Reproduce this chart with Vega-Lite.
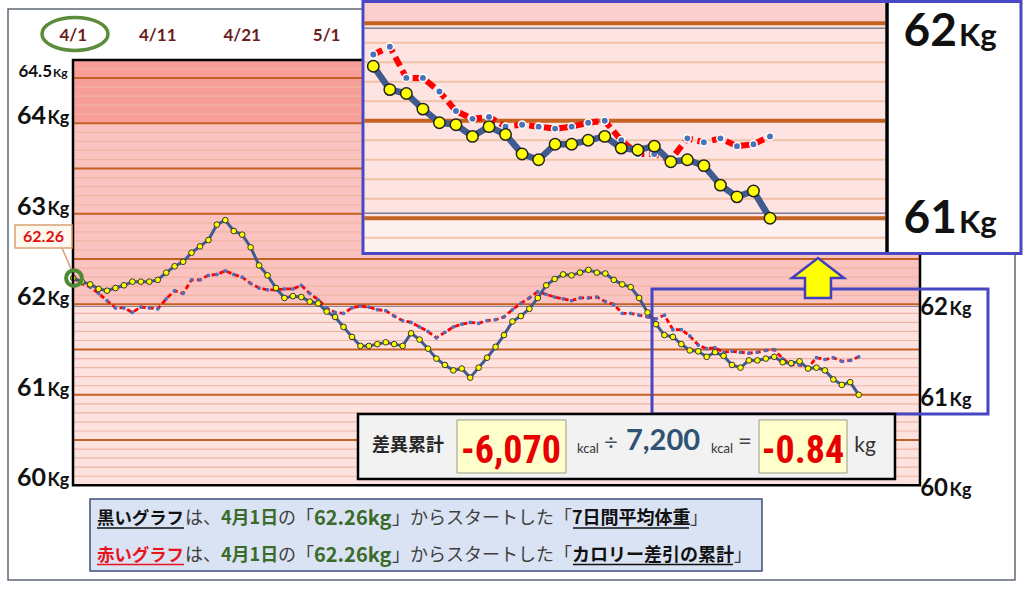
{
"$schema": "https://vega.github.io/schema/vega-lite/v6.json",
"width": 1024, "height": 591, "autosize": {"type": "none"}, "padding": 0,
"background": "#ffffff",
"config": {"view": {"stroke": null}},
"data": {"values": [{}]},
"datasets": {
"series": [
{"day":0,"black":62.29,"red":62.29},{"day":1,"black":62.25,"red":62.23},{"day":2,"black":62.22,"red":62.19},{"day":3,"black":62.17,"red":62.12},{"day":4,"black":62.15,"red":62.04},{"day":5,"black":62.18,"red":61.96},{"day":6,"black":62.21,"red":61.96},{"day":7,"black":62.25,"red":61.91},{"day":8,"black":62.25,"red":61.97},{"day":9,"black":62.25,"red":61.96},
{"day":10,"black":62.27,"red":61.95},{"day":11,"black":62.35,"red":62.06},{"day":12,"black":62.42,"red":62.15},{"day":13,"black":62.47,"red":62.12},{"day":14,"black":62.57,"red":62.27},{"day":15,"black":62.64,"red":62.27},{"day":16,"black":62.71,"red":62.32},{"day":17,"black":62.88,"red":62.33},{"day":18,"black":62.93,"red":62.37},{"day":19,"black":62.81,"red":62.33},
{"day":20,"black":62.77,"red":62.30},{"day":21,"black":62.63,"red":62.23},{"day":22,"black":62.43,"red":62.18},{"day":23,"black":62.32,"red":62.16},{"day":24,"black":62.18,"red":62.16},{"day":25,"black":62.07,"red":62.17},{"day":26,"black":62.09,"red":62.17},{"day":27,"black":62.08,"red":62.21},{"day":28,"black":62.03,"red":62.12},{"day":29,"black":62.01,"red":62.05},
{"day":30,"black":61.92,"red":61.96},{"day":31,"black":61.86,"red":61.91},{"day":32,"black":61.75,"red":61.90},{"day":33,"black":61.64,"red":61.96},{"day":34,"black":61.54,"red":61.98},{"day":35,"black":61.54,"red":61.97},{"day":36,"black":61.56,"red":61.94},{"day":37,"black":61.58,"red":61.93},{"day":38,"black":61.56,"red":61.87},{"day":39,"black":61.54,"red":61.82},
{"day":40,"black":61.68,"red":61.80},{"day":41,"black":61.61,"red":61.75},{"day":42,"black":61.51,"red":61.70},{"day":43,"black":61.40,"red":61.63},{"day":44,"black":61.33,"red":61.69},{"day":45,"black":61.27,"red":61.75},{"day":46,"black":61.29,"red":61.78},{"day":47,"black":61.19,"red":61.80},{"day":48,"black":61.30,"red":61.79},{"day":49,"black":61.41,"red":61.82},
{"day":50,"black":61.53,"red":61.83},{"day":51,"black":61.66,"red":61.86},{"day":52,"black":61.81,"red":61.94},{"day":53,"black":61.87,"red":62.01},{"day":54,"black":61.95,"red":62.07},{"day":55,"black":62.07,"red":62.14},{"day":56,"black":62.21,"red":62.11},{"day":57,"black":62.28,"red":62.08},{"day":58,"black":62.33,"red":62.06},{"day":59,"black":62.32,"red":62.04},
{"day":60,"black":62.35,"red":62.07},{"day":61,"black":62.38,"red":62.07},{"day":62,"black":62.35,"red":62.08},{"day":63,"black":62.34,"red":62.03},{"day":64,"black":62.27,"red":62.00},{"day":65,"black":62.22,"red":61.90},{"day":66,"black":62.19,"red":61.90},{"day":67,"black":62.07,"red":61.88},{"day":68,"black":61.91,"red":61.86},{"day":69,"black":61.78,"red":61.84},
{"day":70,"black":61.66,"red":61.88},{"day":71,"black":61.64,"red":61.72},{"day":72,"black":61.56,"red":61.72},{"day":73,"black":61.49,"red":61.65},{"day":74,"black":61.48,"red":61.55},{"day":75,"black":61.42,"red":61.51},{"day":76,"black":61.47,"red":61.52},{"day":77,"black":61.43,"red":61.47},{"day":78,"black":61.33,"red":61.48},{"day":79,"black":61.30,"red":61.47},
{"day":80,"black":61.38,"red":61.46},{"day":81,"black":61.38,"red":61.47},{"day":82,"black":61.40,"red":61.49},{"day":83,"black":61.42,"red":61.50},{"day":84,"black":61.36,"red":61.40},{"day":85,"black":61.35,"red":61.33},{"day":86,"black":61.37,"red":61.33},{"day":87,"black":61.29,"red":61.30},{"day":88,"black":61.30,"red":61.41},{"day":89,"black":61.27,"red":61.39},
{"day":90,"black":61.17,"red":61.41},{"day":91,"black":61.11,"red":61.37},{"day":92,"black":61.14,"red":61.38},{"day":93,"black":61.00,"red":61.42}
],
"minor": [{"kg":60.1},{"kg":60.2},{"kg":60.3},{"kg":60.4},{"kg":60.6},{"kg":60.7},{"kg":60.8},{"kg":60.9},{"kg":61.1},{"kg":61.2},{"kg":61.3},{"kg":61.4},{"kg":61.6},{"kg":61.7},{"kg":61.8},{"kg":61.9},{"kg":62.1},{"kg":62.2},{"kg":62.3},{"kg":62.4},{"kg":62.6},{"kg":62.7},{"kg":62.8},{"kg":62.9},{"kg":63.1},{"kg":63.2},{"kg":63.3},{"kg":63.4},{"kg":63.6},{"kg":63.7},{"kg":63.8},{"kg":63.9},{"kg":64.1},{"kg":64.2},{"kg":64.3},{"kg":64.4},{"kg":64.6}],
"major": [{"kg":60.5},{"kg":61},{"kg":61.5},{"kg":62},{"kg":62.5},{"kg":63},{"kg":63.5},{"kg":64},{"kg":64.5}],
"insetMinor": [{"kg":60.9},{"kg":61.1},{"kg":61.2},{"kg":61.3},{"kg":61.4},{"kg":61.6},{"kg":61.7},{"kg":61.8},{"kg":61.9}],
"insetMajor": [{"kg":61},{"kg":61.5},{"kg":62}],
"insetEdge": [{"kg":61.0257},{"kg":61.9744}],
"dates": [{"day":0,"lab":"4/1"},{"day":10,"lab":"4/11"},{"day":20,"lab":"4/21"},{"day":30,"lab":"5/1"}],
"leftLabels": [{"kg":64,"n":"64"},{"kg":63,"n":"63"},{"kg":62,"n":"62"},{"kg":61,"n":"61"},{"kg":60,"n":"60"}],
"rightLabels": [{"kg":62,"n":"62"},{"kg":61,"n":"61"},{"kg":60,"n":"60"}]
},
"layer": [
{"layer": [
{"mark": {"type": "rect", "fill": "#f79e98"},
 "encoding": {"x": {"datum": -0.036, "type": "quantitative", "scale": {"domain": [-8.68, 112.576], "nice": false, "zero": false}, "axis": null}, "x2": {"datum": 100.26},
  "y": {"datum": 64, "type": "quantitative", "scale": {"domain": [58.832, 65.3624], "nice": false, "zero": false}, "axis": null}, "y2": {"datum": 64.699}}},
{"mark": {"type": "rect", "fill": "#fbc3c0"},
 "encoding": {"x": {"datum": -0.036, "type": "quantitative", "scale": {"domain": [-8.68, 112.576], "nice": false, "zero": false}, "axis": null}, "x2": {"datum": 100.26},
  "y": {"datum": 62, "type": "quantitative", "scale": {"domain": [58.832, 65.3624], "nice": false, "zero": false}, "axis": null}, "y2": {"datum": 64}}},
{"mark": {"type": "rect", "fill": "#fde2e0"},
 "encoding": {"x": {"datum": -0.036, "type": "quantitative", "scale": {"domain": [-8.68, 112.576], "nice": false, "zero": false}, "axis": null}, "x2": {"datum": 100.26},
  "y": {"datum": 60, "type": "quantitative", "scale": {"domain": [58.832, 65.3624], "nice": false, "zero": false}, "axis": null}, "y2": {"datum": 62}}},
{"data": {"name": "minor"}, "mark": {"type": "rule", "stroke": "#f0b4a2", "strokeWidth": 1.2},
 "encoding": {"x": {"datum": -0.036, "type": "quantitative", "scale": {"domain": [-8.68, 112.576], "nice": false, "zero": false}, "axis": null}, "x2": {"datum": 100.26},
  "y": {"field": "kg", "type": "quantitative", "scale": {"domain": [58.832, 65.3624], "nice": false, "zero": false}, "axis": null}}},
{"data": {"name": "major"}, "mark": {"type": "rule", "stroke": "#c55f22", "strokeWidth": 2},
 "encoding": {"x": {"datum": -0.036, "type": "quantitative", "scale": {"domain": [-8.68, 112.576], "nice": false, "zero": false}, "axis": null}, "x2": {"datum": 100.26},
  "y": {"field": "kg", "type": "quantitative", "scale": {"domain": [58.832, 65.3624], "nice": false, "zero": false}, "axis": null}}},
{"mark": {"type": "rule", "stroke": "#8c8296", "strokeWidth": 1},
 "encoding": {"x": {"datum": -0.036, "type": "quantitative", "scale": {"domain": [-8.68, 112.576], "nice": false, "zero": false}, "axis": null}, "x2": {"datum": 100.26},
  "y": {"datum": 61.976, "type": "quantitative", "scale": {"domain": [58.832, 65.3624], "nice": false, "zero": false}, "axis": null}}},
{"data": {"name": "series"}, "mark": {"type": "line", "color": "#ff0000", "strokeWidth": 2.8, "strokeDash": [5, 3]},
 "encoding": {"x": {"field": "day", "type": "quantitative", "scale": {"domain": [-8.68, 112.576], "nice": false, "zero": false}, "axis": null},
  "y": {"field": "red", "type": "quantitative", "scale": {"domain": [58.832, 65.3624], "nice": false, "zero": false}, "axis": null}}},
{"data": {"name": "series"}, "mark": {"type": "point", "shape": "circle", "filled": true, "fill": "#4472c4", "size": 14, "strokeWidth": 0, "opacity": 1},
 "encoding": {"x": {"field": "day", "type": "quantitative", "scale": {"domain": [-8.68, 112.576], "nice": false, "zero": false}, "axis": null},
  "y": {"field": "red", "type": "quantitative", "scale": {"domain": [58.832, 65.3624], "nice": false, "zero": false}, "axis": null}}},
{"data": {"name": "series"}, "mark": {"type": "line", "color": "#3f5b8f", "strokeWidth": 3},
 "encoding": {"x": {"field": "day", "type": "quantitative", "scale": {"domain": [-8.68, 112.576], "nice": false, "zero": false}, "axis": null},
  "y": {"field": "black", "type": "quantitative", "scale": {"domain": [58.832, 65.3624], "nice": false, "zero": false}, "axis": null}}},
{"data": {"name": "series"}, "mark": {"type": "point", "shape": "circle", "filled": true, "fill": "#ffff00", "stroke": "#333333", "strokeWidth": 1, "size": 32, "opacity": 1},
 "encoding": {"x": {"field": "day", "type": "quantitative", "scale": {"domain": [-8.68, 112.576], "nice": false, "zero": false}, "axis": null},
  "y": {"field": "black", "type": "quantitative", "scale": {"domain": [58.832, 65.3624], "nice": false, "zero": false}, "axis": null}}},
{"mark": {"type": "rect", "fill": "#ffffff", "fillOpacity": 0, "stroke": "#000000", "strokeWidth": 2.5},
 "encoding": {"x": {"datum": -0.036, "type": "quantitative", "scale": {"domain": [-8.68, 112.576], "nice": false, "zero": false}, "axis": null}, "x2": {"datum": 100.26},
  "y": {"datum": 60, "type": "quantitative", "scale": {"domain": [58.832, 65.3624], "nice": false, "zero": false}, "axis": null}, "y2": {"datum": 64.699}}},
{"mark": {"type": "rect", "fill": "#ffffff", "fillOpacity": 0, "stroke": "#4646c3", "strokeWidth": 3},
 "encoding": {"x": {"datum": 68.526, "type": "quantitative", "scale": {"domain": [-8.68, 112.576], "nice": false, "zero": false}, "axis": null}, "x2": {"datum": 108.31},
  "y": {"datum": 60.788, "type": "quantitative", "scale": {"domain": [58.832, 65.3624], "nice": false, "zero": false}, "axis": null}, "y2": {"datum": 62.169}}},
{"mark": {"type": "point", "shape": "M0,-1L1.3,0L0.65,0L0.65,1L-0.65,1L-0.65,0L-1.3,0Z", "size": 1600, "filled": true, "fill": "#ffff00", "stroke": "#3f3fbf", "strokeWidth": 2.5, "opacity": 1},
 "encoding": {"x": {"datum": 88.18, "type": "quantitative", "scale": {"domain": [-8.68, 112.576], "nice": false, "zero": false}, "axis": null},
  "y": {"datum": 62.29, "type": "quantitative", "scale": {"domain": [58.832, 65.3624], "nice": false, "zero": false}, "axis": null}}},
{"data": {"name": "dates"}, "mark": {"type": "text", "font": "Lato", "fontWeight": "bold", "fontSize": 17, "fill": "#6b2020", "align": "center", "baseline": "middle"},
 "encoding": {"x": {"field": "day", "type": "quantitative", "scale": {"domain": [-8.68, 112.576], "nice": false, "zero": false}, "axis": null},
  "y": {"datum": 64.962, "type": "quantitative", "scale": {"domain": [58.832, 65.3624], "nice": false, "zero": false}, "axis": null}, "text": {"field": "lab"}}},
{"mark": {"type": "point", "shape": "M-1,0C-1,-0.276,-0.552,-0.5,0,-0.5C0.552,-0.5,1,-0.276,1,0C1,0.276,0.552,0.5,0,0.5C-0.552,0.5,-1,0.276,-1,0Z", "size": 4356, "filled": false, "stroke": "#5a8c3b", "strokeWidth": 3.5, "opacity": 1},
 "encoding": {"x": {"datum": 0.2, "type": "quantitative", "scale": {"domain": [-8.68, 112.576], "nice": false, "zero": false}, "axis": null},
  "y": {"datum": 64.987, "type": "quantitative", "scale": {"domain": [58.832, 65.3624], "nice": false, "zero": false}, "axis": null}}},
{"data": {"name": "leftLabels"}, "mark": {"type": "text", "font": "Lato", "fontWeight": "bold", "fontSize": 25, "fill": "#111111", "align": "right", "baseline": "alphabetic", "dy": 1},
 "encoding": {"x": {"datum": -3.233, "type": "quantitative", "scale": {"domain": [-8.68, 112.576], "nice": false, "zero": false}, "axis": null},
  "y": {"field": "kg", "type": "quantitative", "scale": {"domain": [58.832, 65.3624], "nice": false, "zero": false}, "axis": null}, "text": {"field": "n"}}},
{"data": {"name": "leftLabels"}, "mark": {"type": "text", "font": "Lato", "fontWeight": "bold", "fontSize": 18, "fill": "#111111", "align": "left", "baseline": "alphabetic", "dy": 1, "text": "Kg"},
 "encoding": {"x": {"datum": -3.055, "type": "quantitative", "scale": {"domain": [-8.68, 112.576], "nice": false, "zero": false}, "axis": null},
  "y": {"field": "kg", "type": "quantitative", "scale": {"domain": [58.832, 65.3624], "nice": false, "zero": false}, "axis": null}}},
{"mark": {"type": "text", "font": "Lato", "fontWeight": "bold", "fontSize": 17, "fill": "#111111", "align": "right", "baseline": "alphabetic", "dy": -1, "text": "64.5"},
 "encoding": {"x": {"datum": -2.522, "type": "quantitative", "scale": {"domain": [-8.68, 112.576], "nice": false, "zero": false}, "axis": null},
  "y": {"datum": 64.5, "type": "quantitative", "scale": {"domain": [58.832, 65.3624], "nice": false, "zero": false}, "axis": null}}},
{"mark": {"type": "text", "font": "Lato", "fontWeight": "bold", "fontSize": 12, "fill": "#111111", "align": "left", "baseline": "alphabetic", "dy": -1, "text": "Kg"},
 "encoding": {"x": {"datum": -2.404, "type": "quantitative", "scale": {"domain": [-8.68, 112.576], "nice": false, "zero": false}, "axis": null},
  "y": {"datum": 64.5, "type": "quantitative", "scale": {"domain": [58.832, 65.3624], "nice": false, "zero": false}, "axis": null}}},
{"data": {"name": "rightLabels"}, "mark": {"type": "text", "font": "Lato", "fontWeight": "bold", "fontSize": 24, "fill": "#111111", "align": "right", "baseline": "alphabetic", "dy": 11},
 "encoding": {"x": {"datum": 103.58, "type": "quantitative", "scale": {"domain": [-8.68, 112.576], "nice": false, "zero": false}, "axis": null},
  "y": {"field": "kg", "type": "quantitative", "scale": {"domain": [58.832, 65.3624], "nice": false, "zero": false}, "axis": null}, "text": {"field": "n"}}},
{"data": {"name": "rightLabels"}, "mark": {"type": "text", "font": "Lato", "fontWeight": "bold", "fontSize": 18, "fill": "#111111", "align": "left", "baseline": "alphabetic", "dy": 11, "text": "Kg"},
 "encoding": {"x": {"datum": 103.76, "type": "quantitative", "scale": {"domain": [-8.68, 112.576], "nice": false, "zero": false}, "axis": null},
  "y": {"field": "kg", "type": "quantitative", "scale": {"domain": [58.832, 65.3624], "nice": false, "zero": false}, "axis": null}}},
{"mark": {"type": "rule", "stroke": "#d9a070", "strokeWidth": 1.5},
 "encoding": {"x": {"datum": -1.338, "type": "quantitative", "scale": {"domain": [-8.68, 112.576], "nice": false, "zero": false}, "axis": null}, "x2": {"datum": -0.154},
  "y": {"datum": 62.622, "type": "quantitative", "scale": {"domain": [58.832, 65.3624], "nice": false, "zero": false}, "axis": null}, "y2": {"datum": 62.368}}},
{"mark": {"type": "rect", "fill": "#fff8ee", "stroke": "#d9a070", "strokeWidth": 1.5},
 "encoding": {"x": {"datum": -6.903, "type": "quantitative", "scale": {"domain": [-8.68, 112.576], "nice": false, "zero": false}, "axis": null}, "x2": {"datum": -0.154},
  "y": {"datum": 62.622, "type": "quantitative", "scale": {"domain": [58.832, 65.3624], "nice": false, "zero": false}, "axis": null}, "y2": {"datum": 62.876}}},
{"mark": {"type": "text", "font": "Lato", "fontWeight": "bold", "fontSize": 16, "fill": "#e01010", "align": "center", "baseline": "middle", "text": "62.26"},
 "encoding": {"x": {"datum": -3.529, "type": "quantitative", "scale": {"domain": [-8.68, 112.576], "nice": false, "zero": false}, "axis": null},
  "y": {"datum": 62.744, "type": "quantitative", "scale": {"domain": [58.832, 65.3624], "nice": false, "zero": false}, "axis": null}}},
{"mark": {"type": "point", "shape": "circle", "size": 250, "filled": false, "stroke": "#4e8a33", "strokeWidth": 4, "opacity": 1},
 "encoding": {"x": {"datum": 0.08, "type": "quantitative", "scale": {"domain": [-8.68, 112.576], "nice": false, "zero": false}, "axis": null},
  "y": {"datum": 62.29, "type": "quantitative", "scale": {"domain": [58.832, 65.3624], "nice": false, "zero": false}, "axis": null}}},
{"mark": {"type": "rect", "fill": "#f2f2f2", "stroke": "#000000", "strokeWidth": 2.5},
 "encoding": {"x": {"datum": 33.712, "type": "quantitative", "scale": {"domain": [-8.68, 112.576], "nice": false, "zero": false}, "axis": null}, "x2": {"datum": 97.30},
  "y": {"datum": 60.070, "type": "quantitative", "scale": {"domain": [58.832, 65.3624], "nice": false, "zero": false}, "axis": null}, "y2": {"datum": 60.788}}},
{"mark": {"type": "rect", "fill": "#ffffcc", "stroke": "#9a9a8a", "strokeWidth": 1},
 "encoding": {"x": {"datum": 45.437, "type": "quantitative", "scale": {"domain": [-8.68, 112.576], "nice": false, "zero": false}, "axis": null}, "x2": {"datum": 58.343},
  "y": {"datum": 60.136, "type": "quantitative", "scale": {"domain": [58.832, 65.3624], "nice": false, "zero": false}, "axis": null}, "y2": {"datum": 60.722}}},
{"mark": {"type": "rect", "fill": "#ffffcc", "stroke": "#9a9a8a", "strokeWidth": 1},
 "encoding": {"x": {"datum": 81.20, "type": "quantitative", "scale": {"domain": [-8.68, 112.576], "nice": false, "zero": false}, "axis": null}, "x2": {"datum": 91.62},
  "y": {"datum": 60.136, "type": "quantitative", "scale": {"domain": [58.832, 65.3624], "nice": false, "zero": false}, "axis": null}, "y2": {"datum": 60.722}}},
{"mark": {"type": "text", "font": "Noto Sans CJK JP", "fontWeight": "bold", "fontSize": 18, "fill": "#262626", "align": "center", "baseline": "middle", "text": "差異累計"},
 "encoding": {"x": {"datum": 39.633, "type": "quantitative", "scale": {"domain": [-8.68, 112.576], "nice": false, "zero": false}, "axis": null},
  "y": {"datum": 60.434, "type": "quantitative", "scale": {"domain": [58.832, 65.3624], "nice": false, "zero": false}, "axis": null}}},
{"mark": {"type": "text", "font": "Liberation Sans Narrow, Roboto Condensed, DejaVu Sans Condensed, Liberation Sans", "fontWeight": "bold", "fontSize": 38, "fill": "#e60000", "align": "center", "baseline": "alphabetic", "text": "-6,070"},
 "encoding": {"x": {"datum": 51.83, "type": "quantitative", "scale": {"domain": [-8.68, 112.576], "nice": false, "zero": false}, "axis": null},
  "y": {"datum": 60.246, "type": "quantitative", "scale": {"domain": [58.832, 65.3624], "nice": false, "zero": false}, "axis": null}}},
{"mark": {"type": "text", "font": "Lato", "fontSize": 13, "fill": "#333333", "align": "center", "baseline": "alphabetic", "text": "kcal"},
 "encoding": {"x": {"datum": 60.94, "type": "quantitative", "scale": {"domain": [-8.68, 112.576], "nice": false, "zero": false}, "axis": null},
  "y": {"datum": 60.357, "type": "quantitative", "scale": {"domain": [58.832, 65.3624], "nice": false, "zero": false}, "axis": null}}},
{"mark": {"type": "text", "font": "Lato", "fontSize": 24, "fill": "#44546a", "align": "center", "baseline": "middle", "text": "÷"},
 "encoding": {"x": {"datum": 63.67, "type": "quantitative", "scale": {"domain": [-8.68, 112.576], "nice": false, "zero": false}, "axis": null},
  "y": {"datum": 60.467, "type": "quantitative", "scale": {"domain": [58.832, 65.3624], "nice": false, "zero": false}, "axis": null}}},
{"mark": {"type": "text", "font": "Lato", "fontWeight": "bold", "fontSize": 29, "fill": "#2f5275", "align": "center", "baseline": "alphabetic", "text": "7,200"},
 "encoding": {"x": {"datum": 69.83, "type": "quantitative", "scale": {"domain": [-8.68, 112.576], "nice": false, "zero": false}, "axis": null},
  "y": {"datum": 60.39, "type": "quantitative", "scale": {"domain": [58.832, 65.3624], "nice": false, "zero": false}, "axis": null}}},
{"mark": {"type": "text", "font": "Lato", "fontSize": 13, "fill": "#333333", "align": "center", "baseline": "alphabetic", "text": "kcal"},
 "encoding": {"x": {"datum": 76.81, "type": "quantitative", "scale": {"domain": [-8.68, 112.576], "nice": false, "zero": false}, "axis": null},
  "y": {"datum": 60.357, "type": "quantitative", "scale": {"domain": [58.832, 65.3624], "nice": false, "zero": false}, "axis": null}}},
{"mark": {"type": "text", "font": "Lato", "fontSize": 24, "fill": "#444444", "align": "center", "baseline": "middle", "text": "="},
 "encoding": {"x": {"datum": 79.54, "type": "quantitative", "scale": {"domain": [-8.68, 112.576], "nice": false, "zero": false}, "axis": null},
  "y": {"datum": 60.479, "type": "quantitative", "scale": {"domain": [58.832, 65.3624], "nice": false, "zero": false}, "axis": null}}},
{"mark": {"type": "text", "font": "Liberation Sans Narrow, Roboto Condensed, DejaVu Sans Condensed, Liberation Sans", "fontWeight": "bold", "fontSize": 38, "fill": "#e60000", "align": "center", "baseline": "alphabetic", "text": "-0.84"},
 "encoding": {"x": {"datum": 86.40, "type": "quantitative", "scale": {"domain": [-8.68, 112.576], "nice": false, "zero": false}, "axis": null},
  "y": {"datum": 60.246, "type": "quantitative", "scale": {"domain": [58.832, 65.3624], "nice": false, "zero": false}, "axis": null}}},
{"mark": {"type": "text", "font": "Lato", "fontSize": 21, "fill": "#333333", "align": "center", "baseline": "alphabetic", "text": "kg"},
 "encoding": {"x": {"datum": 93.75, "type": "quantitative", "scale": {"domain": [-8.68, 112.576], "nice": false, "zero": false}, "axis": null},
  "y": {"datum": 60.368, "type": "quantitative", "scale": {"domain": [58.832, 65.3624], "nice": false, "zero": false}, "axis": null}}},
{"mark": {"type": "rect", "fill": "#dae3f3", "stroke": "#3f4f78", "strokeWidth": 1.5},
 "encoding": {"x": {"datum": 1.978, "type": "quantitative", "scale": {"domain": [-8.68, 112.576], "nice": false, "zero": false}, "axis": null}, "x2": {"datum": 81.546},
  "y": {"datum": 59.053, "type": "quantitative", "scale": {"domain": [58.832, 65.3624], "nice": false, "zero": false}, "axis": null}, "y2": {"datum": 59.849}}},
{"data": {"values": [
  {"x": 13.225, "kg": 59.626, "t": "は、"},
  {"x": 24.24, "kg": 59.626, "t": "の「"},
  {"x": 37.73, "kg": 59.626, "t": "」からスタートした「"},
  {"x": 73.03, "kg": 59.626, "t": "」"},
  {"x": 13.225, "kg": 59.224, "t": "は、"},
  {"x": 24.24, "kg": 59.224, "t": "の「"},
  {"x": 37.73, "kg": 59.224, "t": "」からスタートした「"},
  {"x": 78.24, "kg": 59.224, "t": "」"}
 ]},
 "mark": {"type": "text", "font": "Noto Sans CJK JP", "fontSize": 18, "fontWeight": "normal", "fill": "#404040", "align": "left", "baseline": "middle"},
 "encoding": {"x": {"field": "x", "type": "quantitative", "scale": {"domain": [-8.68, 112.576], "nice": false, "zero": false}, "axis": null},
  "y": {"field": "kg", "type": "quantitative", "scale": {"domain": [58.832, 65.3624], "nice": false, "zero": false}, "axis": null},
  "text": {"field": "t"}}},
{"data": {"values": [
  {"x": 2.807, "kg": 59.626, "t": "黒いグラフ", "s": "k"},
  {"x": 2.807, "kg": 59.224, "t": "赤いグラフ", "s": "r"}
 ]},
 "mark": {"type": "text", "font": "Noto Sans CJK JP", "fontSize": 17.4, "fontWeight": "bold", "align": "left", "baseline": "middle"},
 "encoding": {"x": {"field": "x", "type": "quantitative", "scale": {"domain": [-8.68, 112.576], "nice": false, "zero": false}, "axis": null},
  "y": {"field": "kg", "type": "quantitative", "scale": {"domain": [58.832, 65.3624], "nice": false, "zero": false}, "axis": null},
  "text": {"field": "t"},
  "color": {"field": "s", "type": "nominal", "scale": {"domain": ["k", "r", "g"], "range": ["#111111", "#e8141e", "#3b6b2a"]}, "legend": null}}},
{"data": {"values": [
  {"x": 17.49, "kg": 59.626, "t": "4月1日", "s": "g"},
  {"x": 59.05, "kg": 59.626, "t": "7日間平均体重", "s": "k"},
  {"x": 17.49, "kg": 59.224, "t": "4月1日", "s": "g"},
  {"x": 59.05, "kg": 59.224, "t": "カロリー差引の累計", "s": "k"}
 ]},
 "mark": {"type": "text", "font": "Noto Sans CJK JP", "fontSize": 18, "fontWeight": "bold", "align": "left", "baseline": "middle"},
 "encoding": {"x": {"field": "x", "type": "quantitative", "scale": {"domain": [-8.68, 112.576], "nice": false, "zero": false}, "axis": null},
  "y": {"field": "kg", "type": "quantitative", "scale": {"domain": [58.832, 65.3624], "nice": false, "zero": false}, "axis": null},
  "text": {"field": "t"},
  "color": {"field": "s", "type": "nominal", "scale": {"domain": ["k", "r", "g"], "range": ["#111111", "#e8141e", "#3b6b2a"]}, "legend": null}}},
{"data": {"values": [
  {"x": 28.5, "kg": 59.626, "t": "62.26kg"},
  {"x": 28.5, "kg": 59.224, "t": "62.26kg"}
 ]},
 "mark": {"type": "text", "font": "Noto Sans CJK JP", "fontSize": 20, "fontWeight": "bold", "fill": "#3b6b2a", "align": "left", "baseline": "middle"},
 "encoding": {"x": {"field": "x", "type": "quantitative", "scale": {"domain": [-8.68, 112.576], "nice": false, "zero": false}, "axis": null},
  "y": {"field": "kg", "type": "quantitative", "scale": {"domain": [58.832, 65.3624], "nice": false, "zero": false}, "axis": null},
  "text": {"field": "t"}}},
{"data": {"values": [
  {"x": 2.807, "x2": 13.107, "kg": 59.528, "s": "k"},
  {"x": 59.17, "x2": 72.91, "kg": 59.528, "s": "k"},
  {"x": 2.807, "x2": 13.107, "kg": 59.125, "s": "r"},
  {"x": 59.17, "x2": 78.12, "kg": 59.125, "s": "k"}
 ]},
 "mark": {"type": "rule", "strokeWidth": 1.5},
 "encoding": {"x": {"field": "x", "type": "quantitative", "scale": {"domain": [-8.68, 112.576], "nice": false, "zero": false}, "axis": null}, "x2": {"field": "x2"},
  "y": {"field": "kg", "type": "quantitative", "scale": {"domain": [58.832, 65.3624], "nice": false, "zero": false}, "axis": null},
  "color": {"field": "s", "type": "nominal", "scale": {"domain": ["k", "r", "g"], "range": ["#111111", "#e8141e", "#3b6b2a"]}, "legend": null}}},
{"mark": {"type": "rect", "fill": "#ffffff", "fillOpacity": 0, "stroke": "#5f6875", "strokeWidth": 1.5},
 "encoding": {"x": {"datum": -7.732, "type": "quantitative", "scale": {"domain": [-8.68, 112.576], "nice": false, "zero": false}, "axis": null}, "x2": {"datum": 111.51},
  "y": {"datum": 58.954, "type": "quantitative", "scale": {"domain": [58.832, 65.3624], "nice": false, "zero": false}, "axis": null}, "y2": {"datum": 65.263}}}
]},
{"layer": [
{"mark": {"type": "rect", "fill": "#ffffff"},
 "encoding": {"x": {"datum": 68.377, "type": "quantitative", "scale": {"domain": [46.417, 108.365], "nice": false, "zero": false}, "axis": null}, "x2": {"datum": 108.183},
  "y": {"datum": 60.8195, "type": "quantitative", "scale": {"domain": [59.0887, 62.1195], "nice": false, "zero": false}, "axis": null}, "y2": {"datum": 62.1118}}},
{"mark": {"type": "rect", "fill": "#fbcfce"},
 "encoding": {"x": {"datum": 68.46, "type": "quantitative", "scale": {"domain": [46.417, 108.365], "nice": false, "zero": false}, "axis": null}, "x2": {"datum": 99.957},
  "y": {"datum": 62, "type": "quantitative", "scale": {"domain": [59.0887, 62.1195], "nice": false, "zero": false}, "axis": null}, "y2": {"datum": 62.1118}}},
{"mark": {"type": "rect", "fill": "#fde4e3"},
 "encoding": {"x": {"datum": 68.46, "type": "quantitative", "scale": {"domain": [46.417, 108.365], "nice": false, "zero": false}, "axis": null}, "x2": {"datum": 99.957},
  "y": {"datum": 61, "type": "quantitative", "scale": {"domain": [59.0887, 62.1195], "nice": false, "zero": false}, "axis": null}, "y2": {"datum": 62}}},
{"mark": {"type": "rect", "fill": "#fdf1f0"},
 "encoding": {"x": {"datum": 68.46, "type": "quantitative", "scale": {"domain": [46.417, 108.365], "nice": false, "zero": false}, "axis": null}, "x2": {"datum": 99.957},
  "y": {"datum": 60.8195, "type": "quantitative", "scale": {"domain": [59.0887, 62.1195], "nice": false, "zero": false}, "axis": null}, "y2": {"datum": 61}}},
{"data": {"name": "insetMinor"}, "mark": {"type": "rule", "stroke": "#f1c2a6", "strokeWidth": 2},
 "encoding": {"x": {"datum": 68.46, "type": "quantitative", "scale": {"domain": [46.417, 108.365], "nice": false, "zero": false}, "axis": null}, "x2": {"datum": 99.957},
  "y": {"field": "kg", "type": "quantitative", "scale": {"domain": [59.0887, 62.1195], "nice": false, "zero": false}, "axis": null}}},
{"data": {"name": "insetMajor"}, "mark": {"type": "rule", "stroke": "#c5621f", "strokeWidth": 4},
 "encoding": {"x": {"datum": 68.46, "type": "quantitative", "scale": {"domain": [46.417, 108.365], "nice": false, "zero": false}, "axis": null}, "x2": {"datum": 99.957},
  "y": {"field": "kg", "type": "quantitative", "scale": {"domain": [59.0887, 62.1195], "nice": false, "zero": false}, "axis": null}}},
{"data": {"name": "insetEdge"}, "mark": {"type": "rule", "stroke": "#7f7f8f", "strokeWidth": 1.5},
 "encoding": {"x": {"datum": 68.46, "type": "quantitative", "scale": {"domain": [46.417, 108.365], "nice": false, "zero": false}, "axis": null}, "x2": {"datum": 99.957},
  "y": {"field": "kg", "type": "quantitative", "scale": {"domain": [59.0887, 62.1195], "nice": false, "zero": false}, "axis": null}}},
{"mark": {"type": "rule", "stroke": "#000000", "strokeWidth": 3.5},
 "encoding": {"x": {"datum": 100.078, "type": "quantitative", "scale": {"domain": [46.417, 108.365], "nice": false, "zero": false}, "axis": null},
  "y": {"datum": 60.8195, "type": "quantitative", "scale": {"domain": [59.0887, 62.1195], "nice": false, "zero": false}, "axis": null}, "y2": {"datum": 62.1118}}},
{"data": {"name": "series"}, "transform": [{"filter": "datum.day >= 69"}], "mark": {"type": "line", "color": "#ff0000", "strokeWidth": 6, "strokeDash": [10, 5]},
 "encoding": {"x": {"field": "day", "type": "quantitative", "scale": {"domain": [46.417, 108.365], "nice": false, "zero": false}, "axis": null},
  "y": {"field": "red", "type": "quantitative", "scale": {"domain": [59.0887, 62.1195], "nice": false, "zero": false}, "axis": null}}},
{"data": {"name": "series"}, "transform": [{"filter": "datum.day >= 69"}], "mark": {"type": "point", "shape": "circle", "filled": true, "fill": "#4a72b8", "stroke": "#ffffff", "strokeWidth": 1.5, "size": 55, "opacity": 1},
 "encoding": {"x": {"field": "day", "type": "quantitative", "scale": {"domain": [46.417, 108.365], "nice": false, "zero": false}, "axis": null},
  "y": {"field": "red", "type": "quantitative", "scale": {"domain": [59.0887, 62.1195], "nice": false, "zero": false}, "axis": null}}},
{"data": {"name": "series"}, "transform": [{"filter": "datum.day >= 69"}], "mark": {"type": "line", "color": "#3f5b8f", "strokeWidth": 6.5},
 "encoding": {"x": {"field": "day", "type": "quantitative", "scale": {"domain": [46.417, 108.365], "nice": false, "zero": false}, "axis": null},
  "y": {"field": "black", "type": "quantitative", "scale": {"domain": [59.0887, 62.1195], "nice": false, "zero": false}, "axis": null}}},
{"data": {"name": "series"}, "transform": [{"filter": "datum.day >= 69"}], "mark": {"type": "point", "shape": "circle", "filled": true, "fill": "#ffff00", "stroke": "#222222", "strokeWidth": 1.5, "size": 130, "opacity": 1},
 "encoding": {"x": {"field": "day", "type": "quantitative", "scale": {"domain": [46.417, 108.365], "nice": false, "zero": false}, "axis": null},
  "y": {"field": "black", "type": "quantitative", "scale": {"domain": [59.0887, 62.1195], "nice": false, "zero": false}, "axis": null}}},
{"mark": {"type": "text", "font": "Lato", "fontWeight": "bold", "fontSize": 46, "fill": "#111111", "align": "right", "baseline": "alphabetic", "text": "62"},
 "encoding": {"x": {"datum": 104.31, "type": "quantitative", "scale": {"domain": [46.417, 108.365], "nice": false, "zero": false}, "axis": null},
  "y": {"datum": 61.884, "type": "quantitative", "scale": {"domain": [59.0887, 62.1195], "nice": false, "zero": false}, "axis": null}}},
{"mark": {"type": "text", "font": "Lato", "fontWeight": "bold", "fontSize": 31, "fill": "#111111", "align": "left", "baseline": "alphabetic", "text": "Kg"},
 "encoding": {"x": {"datum": 104.43, "type": "quantitative", "scale": {"domain": [46.417, 108.365], "nice": false, "zero": false}, "axis": null},
  "y": {"datum": 61.884, "type": "quantitative", "scale": {"domain": [59.0887, 62.1195], "nice": false, "zero": false}, "axis": null}}},
{"mark": {"type": "text", "font": "Lato", "fontWeight": "bold", "fontSize": 46, "fill": "#111111", "align": "right", "baseline": "alphabetic", "text": "61"},
 "encoding": {"x": {"datum": 104.31, "type": "quantitative", "scale": {"domain": [46.417, 108.365], "nice": false, "zero": false}, "axis": null},
  "y": {"datum": 60.9246, "type": "quantitative", "scale": {"domain": [59.0887, 62.1195], "nice": false, "zero": false}, "axis": null}}},
{"mark": {"type": "text", "font": "Lato", "fontWeight": "bold", "fontSize": 31, "fill": "#111111", "align": "left", "baseline": "alphabetic", "text": "Kg"},
 "encoding": {"x": {"datum": 104.43, "type": "quantitative", "scale": {"domain": [46.417, 108.365], "nice": false, "zero": false}, "axis": null},
  "y": {"datum": 60.9246, "type": "quantitative", "scale": {"domain": [59.0887, 62.1195], "nice": false, "zero": false}, "axis": null}}},
{"mark": {"type": "rect", "fill": "#ffffff", "fillOpacity": 0, "stroke": "#4848c4", "strokeWidth": 3},
 "encoding": {"x": {"datum": 68.377, "type": "quantitative", "scale": {"domain": [46.417, 108.365], "nice": false, "zero": false}, "axis": null}, "x2": {"datum": 108.183},
  "y": {"datum": 60.8195, "type": "quantitative", "scale": {"domain": [59.0887, 62.1195], "nice": false, "zero": false}, "axis": null}, "y2": {"datum": 62.1118}}}
]}
],
"resolve": {"scale": {"x": "independent", "y": "independent", "color": "independent"}}
}
